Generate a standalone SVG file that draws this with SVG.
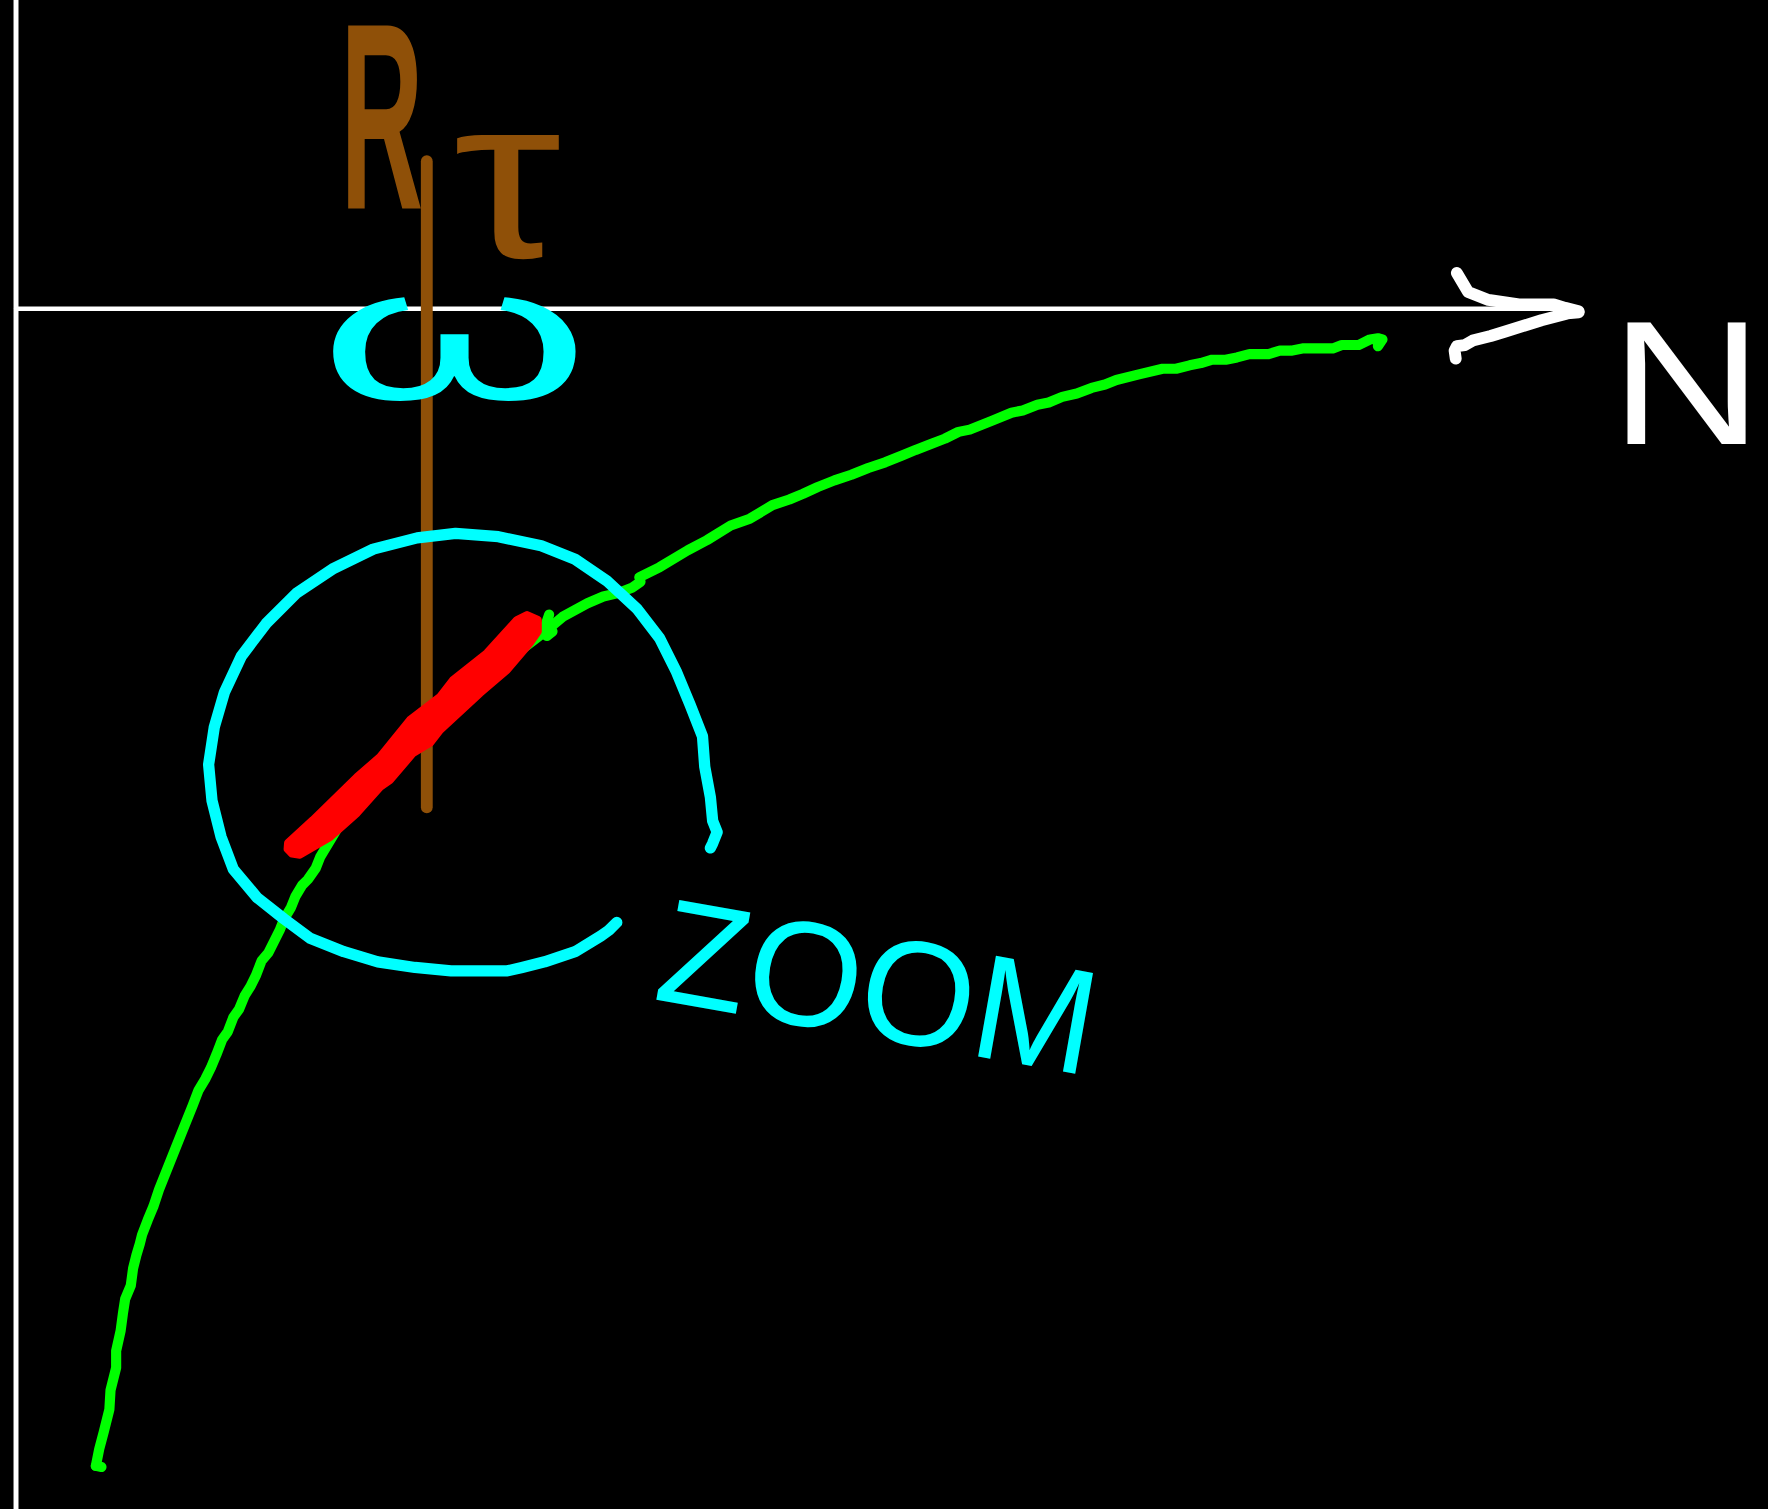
<svg xmlns="http://www.w3.org/2000/svg" width="1768" height="1509" viewBox="0 0 1768 1509">
<style>
.s{fill:none;stroke-linecap:round;stroke-linejoin:round}
.w{stroke:#FFFFFF}
.c{stroke:#00FFFF;stroke-width:10}
.g{stroke:#00FF00;stroke-width:9}
.b{stroke:#8F5008}
.t{font-family:"Liberation Sans",Arial,sans-serif}
</style>
<rect x="0" y="0" width="1768" height="1509" fill="#000000"/>
<g transform="scale(1.1276)">
  <g id="axes">
    <line class="s w" x1="14.2" y1="-2" x2="14.2" y2="1340" stroke-width="4.4"/>
    <line class="s w" x1="14.2" y1="273.8" x2="1396" y2="273.8" stroke-width="3.8"/>
    <polyline class="s w" stroke-width="10.5" points="1292,242 1302,259 1320,266 1347,270 1378,270 1388,273 1400,276"/>
    <polyline class="s w" stroke-width="10.5" points="1400,277 1390,278 1367,284 1335,294 1322,298 1306,302 1299,306 1292,307 1290,311 1291,318"/>
  </g>
  <g id="vertical-line">
    <line class="s b" x1="378.5" y1="143" x2="378.5" y2="716" stroke-width="10.5"/>
  </g>
  <g id="curve">
    <polyline class="s g" points="85,1300 88,1285 92,1270 97,1250 98,1233 103,1213 103,1198 107,1180 109,1165 111,1152 116,1140 118,1125 121,1113 124,1103 126,1095 131,1082 136,1070 141,1055 151,1030 161,1005 171,980 176,967 182,957 187,947 192,935 197,922 202,915 207,902 212,895 217,883 222,875 227,865 232,852 238,845 243,835 248,825 252,815 258,805 262,795 268,785 273,780 280,770 284,760 290,750 296,740 302,730 307,725 312,717 317,710 322,705 340,686 370,660 400,632 430,604 460,578 486,558 499,547 510,541 521,535 535,529 548,526 561,521 568,516 567,512 585,503 610,488 627,479 648,466 665,460 685,448 700,443 712,438 725,432 740,426 755,421 770,415 785,410 800,404 812,399 825,394 838,389 850,383 860,381 880,373 897,366 907,364 920,359 930,357 942,352 955,349 968,344 980,341 990,337 1010,332 1031,327 1043,327 1055,324 1065,322 1075,319 1087,319 1097,317 1108,314 1125,314 1135,311 1145,311 1155,309 1168,309 1182,309 1190,306 1205,306 1215,301 1222,300 1226,301 1222,307"/>
    <polyline class="s g" points="487,545 484,554 485,564 490,560"/>
    <polyline class="s g" points="85,1300 90,1301"/>
  </g>
  <g id="highlight">
    <polygon fill="#FF0000" stroke="#FF0000" stroke-width="7" stroke-linejoin="round" points="255.4,747.6 277.6,727.2 316.6,689.1 337,671.3 363.6,638.5 390.2,618.1 401.7,603.1 431.9,579.1 458.5,549.8 467.4,545.4 477,549.8 477,560 470,570.2 449.6,594.2 425.7,614.6 390.2,647.4 381.3,658.9 366.3,667.8 345.9,691.7 337,698 316.6,721 292.7,742.3 266,758 259,757 255,753"/>
  </g>
  <g id="zoom-circle">
    <polyline class="s c" points="547,818 540,825 533,830 510,844 483,853 463,858 450,861 400,861 368,858 335,853 305,844 275,832 252,815 228,796 207,771 196,742 188,710 185,678 190,645 199,614 214,582 236,553 263,526 296,504 331,487 370,477 404,473 442,476 480,484 510,496 538,515 565,540 585,566 600,596 612,625 623,653 625,680 630,707 632,728 636,738 632,748 630,752"/>
  </g>
  <g id="labels" class="t">
    <g id="label-r-tau" fill="#8F5008">
      <text transform="translate(302 185) scale(0.43 1)" font-size="236" font-weight="bold">R</text>
      <text transform="translate(402 228) scale(1.18 1)" font-size="205">τ</text>
    </g>
    <text id="label-omega" fill="#00FFFF" transform="translate(283 354) scale(1.83 1)" font-size="168">ω</text>
    <text id="label-n" fill="#FFFFFF" transform="translate(1428 394) scale(1.2 1)" font-size="156">N</text>
    <text id="label-zoom" fill="#00FFFF" x="578" y="886" font-size="132" textLength="392" lengthAdjust="spacingAndGlyphs" transform="rotate(10 578 886)">ZOOM</text>
  </g>
</g>
</svg>
